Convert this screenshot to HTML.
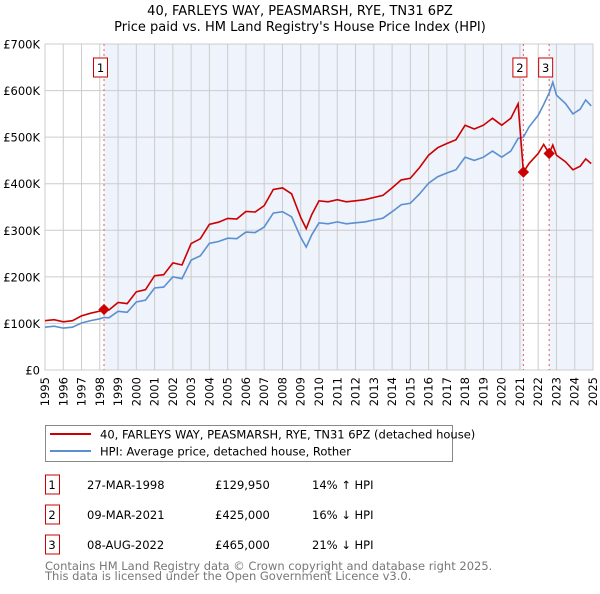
<!DOCTYPE html>
<html><head><meta charset="utf-8"><style>
body{margin:0;background:#fff;font-family:"DejaVu Sans","Liberation Sans",sans-serif;}
</style></head><body>
<svg width="600" height="590" xmlns="http://www.w3.org/2000/svg" font-family="DejaVu Sans, Liberation Sans, sans-serif">
<text x="300" y="15" text-anchor="middle" font-size="13">40, FARLEYS WAY, PEASMARSH, RYE, TN31 6PZ</text>
<text x="300" y="31" text-anchor="middle" font-size="13">Price paid vs. HM Land Registry's House Price Index (HPI)</text>
<g id="plot"></g>
<g>
<rect x="45.5" y="425.5" width="407" height="36" fill="#fff" stroke="#888"/>
<line x1="50" y1="434" x2="91" y2="434" stroke="#cc0000" stroke-width="2"/>
<text x="100" y="438.5" font-size="11.5">40, FARLEYS WAY, PEASMARSH, RYE, TN31 6PZ (detached house)</text>
<line x1="50" y1="451" x2="91" y2="451" stroke="#5b8fd0" stroke-width="2"/>
<text x="100" y="455.5" font-size="11.5">HPI: Average price, detached house, Rother</text>
</g>
<g id="table" font-size="11.5"></g>
<text x="45" y="570" font-size="11.5" fill="#777">Contains HM Land Registry data © Crown copyright and database right 2025.</text>
<text x="45" y="580" font-size="11.5" fill="#777">This data is licensed under the Open Government Licence v3.0.</text>
</svg>
<script>
const years=[1995,1995.5,1996,1996.5,1997,1997.5,1998,1998.23,1998.5,1999,1999.5,2000,2000.5,2001,2001.5,2002,2002.5,2003,2003.5,2004,2004.5,2005,2005.5,2006,2006.5,2007,2007.5,2008,2008.5,2009,2009.3,2009.6,2010,2010.5,2011,2011.5,2012,2012.5,2013,2013.5,2014,2014.5,2015,2015.5,2016,2016.5,2017,2017.5,2018,2018.5,2019,2019.5,2020,2020.5,2020.9,2021.19,2021.5,2022,2022.3,2022.6,2022.8,2023,2023.5,2023.9,2024.3,2024.6,2024.9];
const hpi=[92,94,90,92,101,106,110,113,112,126,124,146,150,176,178,200,196,236,245,272,276,283,282,296,295,307,337,340,329,285,264,290,316,314,318,314,316,318,322,326,340,355,358,378,401,415,423,430,457,450,457,470,457,470,497,500,522,547,570,595,618,590,572,550,560,580,567];
const saleYears=[1998.23,2021.19,2022.6];
const salePrices=[129950,425000,465000];
const saleLabels=["1","2","3"];
const saleDates=["27-MAR-1998","09-MAR-2021","08-AUG-2022"];
const salePriceText=["£129,950","£425,000","£465,000"];
const saleHpiText=["14% ↑ HPI","16% ↓ HPI","21% ↓ HPI"];
const yTicks=[0,100,200,300,400,500,600,700];
const yTickLabels=["£0","£100K","£200K","£300K","£400K","£500K","£600K","£700K"];

const NS="http://www.w3.org/2000/svg";
const X0=45,X1=593,Y0=370,Y1=44;
const xs=y=>X0+(y-1995)/30*(X1-X0);
const ys=v=>Y0-v/700*(Y0-Y1);
const plot=document.getElementById('plot');
function mk(tag,at,parent){const e=document.createElementNS(NS,tag);for(const k in at)e.setAttribute(k,at[k]);(parent||plot).appendChild(e);return e;}
const s1=xs(saleYears[0]),s2=xs(saleYears[1]),s3=xs(saleYears[2]);
let r=mk('rect',{x:s1,y:Y1,width:s2-s1,height:Y0-Y1,fill:'#eef3fc'});


r=mk('rect',{x:s3,y:Y1,width:X1-s3,height:Y0-Y1,fill:'#eef3fc'});


for(let y=1995;y<=2025;y++){const g=mk('line',{x1:xs(y),x2:xs(y),y1:Y1,y2:Y0,stroke:'#ccc','stroke-width':1});


const t=mk('text',{x:0,y:0,'font-size':11.5,'text-anchor':'end',transform:`translate(${xs(y)+4},377) rotate(-90)`});
t.textContent=y;

}
yTicks.forEach((v,i)=>{const g=mk('line',{x1:X0,x2:X1,y1:ys(v),y2:ys(v),stroke:'#ccc','stroke-width':1});


const t=mk('text',{x:40,y:ys(v)+4.5,'font-size':11.5,'text-anchor':'end'});
t.textContent=yTickLabels[i];

});
mk('rect',{x:X0,y:Y1,width:X1-X0,height:Y0-Y1,fill:'none',stroke:'#ccc'});
saleYears.forEach((sy,i)=>{const l=mk('line',{x1:xs(sy),x2:xs(sy),y1:Y1,y2:Y0,stroke:'#e06060','stroke-dasharray':'2,3'});


const bx=xs(sy)-3.5;
const b=mk('rect',{x:bx-7,y:58,width:14,height:19,fill:'#fff',stroke:'#cc0000'});


const t=mk('text',{x:bx,y:72,'font-size':11.5,'text-anchor':'middle'});t.textContent=saleLabels[i];

});
function hpiAt(y){for(let i=1;i<years.length;i++){if(years[i]>=y){const f=(y-years[i-1])/(years[i]-years[i-1]);return hpi[i-1]+f*(hpi[i]-hpi[i-1]);}}return hpi[hpi.length-1];}
const ratios=saleYears.map((sy,i)=>salePrices[i]/1000/hpiAt(sy));
let bp='',rp='';
years.forEach((y,i)=>{bp+=(i?'L':'M')+xs(y).toFixed(1)+','+ys(hpi[i]).toFixed(1);
let k=0;for(let j=0;j<saleYears.length;j++)if(y>=saleYears[j]-1e-9)k=j;
rp+=(i?'L':'M')+xs(y).toFixed(1)+','+ys(hpi[i]*ratios[k]).toFixed(1);
});
const bl=mk('path',{d:bp,fill:'none',stroke:'#5b8fd0','stroke-width':1.6});


const rl=mk('path',{d:rp,fill:'none',stroke:'#cc0000','stroke-width':1.6});


saleYears.forEach((sy,i)=>{const c=mk('rect',{x:xs(sy)-4,y:ys(salePrices[i]/1000)-4,width:8,height:8,fill:'#cc0000',transform:`rotate(45 ${xs(sy)} ${ys(salePrices[i]/1000)})`});

});
const tb=document.getElementById('table');
saleLabels.forEach((lab,i)=>{const y=485+i*30;
const b=mk('rect',{x:45.5,y:y-10,width:14,height:19,fill:'#fff',stroke:'#cc0000'},tb);


const vals=[[52,lab,'table-number'],[87,saleDates[i],'table-date'],[215,salePriceText[i],'table-price'],[312,saleHpiText[i],'table-hpi-diff']];
vals.forEach(v=>{const t=mk('text',{x:v[0],y:y+4,'text-anchor':v[0]==52?'middle':'start'},tb);t.textContent=v[1];

});});
</script>
</body></html>
